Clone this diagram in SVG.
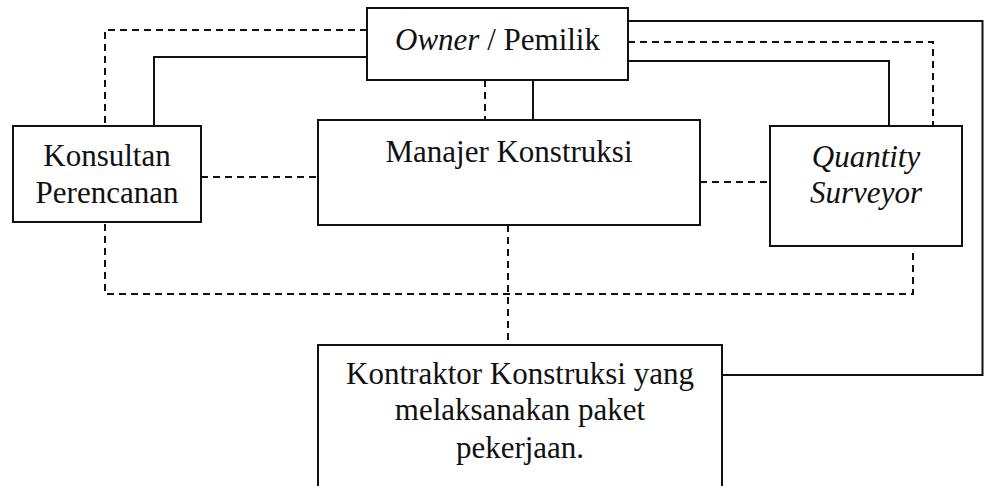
<svg xmlns="http://www.w3.org/2000/svg" width="984" height="486" viewBox="0 0 984 486">
<style>
.box{fill:#fff;stroke:#111;stroke-width:2}
.solid{fill:none;stroke:#111;stroke-width:2}
.dash{fill:none;stroke:#111;stroke-width:2;stroke-dasharray:7 5}
text{font-family:"Liberation Serif","Times New Roman",serif;font-size:31px;fill:#111;text-anchor:middle}
.it{font-style:italic}
</style>
<rect width="984" height="486" fill="#fff"/>
<g id="connectors">
<path class="solid" d="M628,21 H982.5 V375 H722"/>
<path class="solid" d="M628,61 H889 V126"/>
<path class="solid" d="M367,57 H154 V126"/>
<path class="solid" d="M533,80 V120"/>
<path class="dash" d="M367,30 H105 V126"/>
<path class="dash" d="M628,42 H933 V126"/>
<path class="dash" d="M485,80 V120"/>
<path class="dash" d="M201,177 H318"/>
<path class="dash" d="M700,182 H770"/>
<path class="dash" d="M105,224 V294 H913 V250"/>
<path class="dash" d="M508,225 V345"/>
</g>
<g id="owner">
<rect class="box" x="367" y="8" width="261" height="72"/>
<text x="497.5" y="50"><tspan class="it">Owner</tspan> / Pemilik</text>
</g>
<g id="konsultan">
<rect class="box" x="13" y="126" width="188" height="96"/>
<text x="107" y="166">Konsultan</text>
<text x="107" y="203">Perencanan</text>
</g>
<g id="manajer">
<rect class="box" x="318" y="120" width="382" height="105"/>
<text x="509" y="162">Manajer Konstruksi</text>
</g>
<g id="quantity-surveyor">
<rect class="box" x="770" y="126" width="192" height="120"/>
<text class="it" x="866" y="167">Quantity</text>
<text class="it" x="866" y="203">Surveyor</text>
</g>
<g id="kontraktor">
<rect class="box" x="318" y="345" width="404" height="150"/>
<text x="520" y="384">Kontraktor Konstruksi yang</text>
<text x="520" y="420">melaksanakan paket</text>
<text x="520" y="458">pekerjaan.</text>
</g>
</svg>
